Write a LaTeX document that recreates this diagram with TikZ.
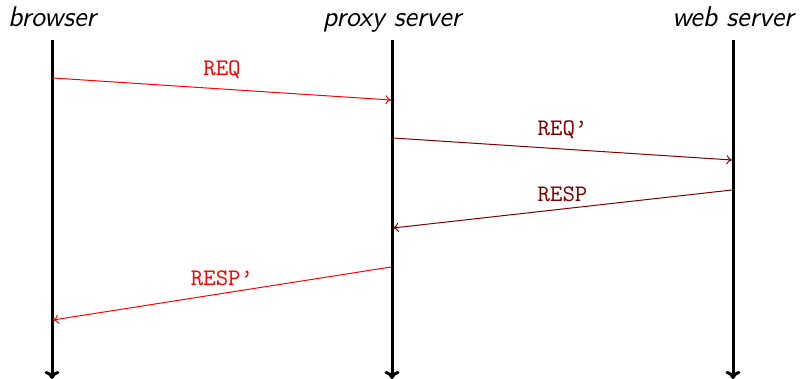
\documentclass[tikz,border=0pt]{standalone}
\usetikzlibrary{arrows.meta}
\begin{document}
\begin{tikzpicture}[x=0.4pt,y=-0.4pt,
  lifeline/.style={line width=1.2pt,-{To[length=3.2pt,width=6pt]}},
  actor/.style={font=\sffamily\itshape\fontsize{11.4}{13}\selectfont,anchor=base},
  msg/.style={line width=0.4pt,-{To[length=2.2pt,width=3.6pt]}},
  msglabel/.style={font=\ttfamily\fontsize{9.5}{11}\selectfont},
  lightmsg/.style={msg,red},
  darkmsg/.style={msg,red!50!black}]
\useasboundingbox (0,0) rectangle (801,379);
% actors
\node[actor] (b) at (52,27) {browser};
\node[actor] (p) at (392,27) {proxy server};
\node[actor] (w) at (733,27) {web server};
% lifelines
\coordinate (bt) at (52,40);  \coordinate (bb) at (52,379);
\coordinate (pt) at (392,40); \coordinate (pb) at (392,379);
\coordinate (wt) at (733,40); \coordinate (wb) at (733,379);
\draw[lifeline] (bt) -- (bb);
\draw[lifeline] (pt) -- (pb);
\draw[lifeline] (wt) -- (wb);
% message end points
\coordinate (m1a) at (53,78);  \coordinate (m1b) at (391,100);
\coordinate (m2a) at (393,138); \coordinate (m2b) at (732,160);
\coordinate (m3a) at (732,190); \coordinate (m3b) at (393,228);
\coordinate (m4a) at (391,267); \coordinate (m4b) at (53,320);
\draw[lightmsg] (m1a) -- node[msglabel,red,pos=0.5,yshift=7.5pt] (l1) {REQ} (m1b);
\draw[darkmsg] (m2a) -- node[msglabel,red!50!black,pos=0.5,yshift=7.5pt] (l2) {REQ\textquoteright} (m2b);
\draw[darkmsg] (m3a) -- node[msglabel,red!50!black,pos=0.5,yshift=6pt] (l3) {RESP} (m3b);
\draw[lightmsg] (m4a) -- node[msglabel,red,pos=0.5,yshift=6pt] (l4) {RESP\textquoteright} (m4b);
\end{tikzpicture}
\end{document}
